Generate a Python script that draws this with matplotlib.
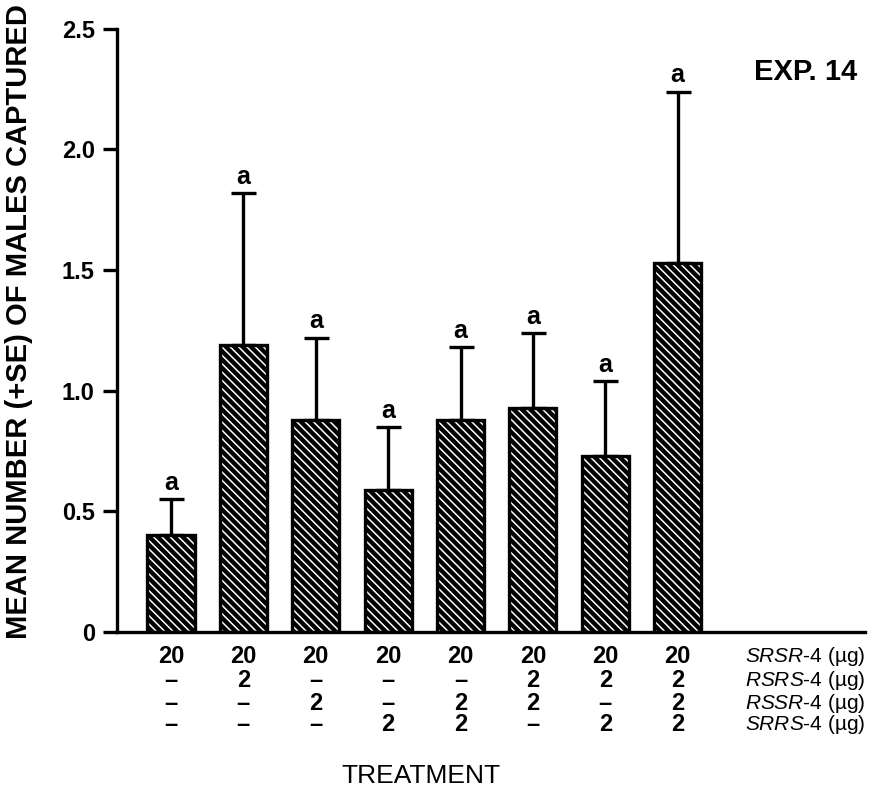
import matplotlib
matplotlib.use("Agg")
import matplotlib.pyplot as plt
import numpy as np

plt.rcParams['font.family'] = ['Liberation Sans', 'DejaVu Sans']
plt.rcParams['mathtext.fontset'] = 'custom'
plt.rcParams['mathtext.it'] = 'Liberation Sans:italic'
plt.rcParams['mathtext.rm'] = 'Liberation Sans'
plt.rcParams['hatch.linewidth'] = 1.1

# mean number of males captured and +SE
means = [0.40, 1.19, 0.88, 0.59, 0.88, 0.93, 0.73, 1.53]
se = [0.15, 0.63, 0.34, 0.26, 0.30, 0.31, 0.31, 0.71]
letters = ["a", "a", "a", "a", "a", "a", "a", "a"]

# treatment doses (µg), "–" = not included
srsr = ["20", "20", "20", "20", "20", "20", "20", "20"]
rsrs = ["–", "2", "–", "–", "–", "2", "2", "2"]
rssr = ["–", "–", "2", "–", "2", "2", "–", "2"]
srrs = ["–", "–", "–", "2", "2", "–", "2", "2"]
row_names = ["SRSR", "RSRS", "RSSR", "SRRS"]
yticks = [0, 0.5, 1.0, 1.5, 2.0, 2.5]
ytick_labels = ["0", "0.5", "1.0", "1.5", "2.0", "2.5"]

x = np.arange(1, len(means) + 1)

fig = plt.figure(figsize=(8.73, 7.99), dpi=100)
ax = fig.add_axes([0.134, 0.209, 0.857, 0.755])

# black bars with white diagonal hatch, then a black outline on top
ax.bar(x, means, width=0.65, color="black", edgecolor="white",
       hatch="\\\\\\\\", linewidth=0, zorder=2)
ax.bar(x, means, width=0.65, fill=False, edgecolor="black",
       linewidth=2.4, zorder=3)
ax.errorbar(x, means, yerr=[np.zeros(len(se)), se], fmt="none",
            ecolor="black", elinewidth=2.4, capsize=9, capthick=2.4, zorder=1)

for xi, m, s, l in zip(x, means, se, letters):
    ax.annotate(l, (xi, m + s), xytext=(0, 3), textcoords="offset points",
                ha="center", va="bottom", fontsize=18, fontweight="bold")

ax.set_xlim(0.254, 10.59)
ax.set_ylim(0, 2.5)
ax.set_xticks([])
ax.set_yticks(yticks)
ax.set_yticklabels(ytick_labels)
ax.tick_params(axis="y", direction="out", length=10, width=2.4, pad=6,
               labelsize=17)
for lab in ax.get_yticklabels():
    lab.set_fontweight("bold")
for side in ["top", "right"]:
    ax.spines[side].set_visible(False)
ax.spines["left"].set_linewidth(2.4)
ax.spines["bottom"].set_linewidth(2.4)

ax.set_ylabel("MEAN NUMBER (+SE) OF MALES CAPTURED", fontsize=21,
              fontweight="bold")
ax.yaxis.set_label_coords(-0.112, 0.514)

ax.text(0.99, 0.929, "EXP. 14", transform=ax.transAxes, ha="right",
        va="center", fontsize=21, fontweight="bold")

# treatment table under the axis
trans = ax.get_xaxis_transform()
rows = [srsr, rsrs, rssr, srrs]
row_y = [-0.041, -0.081, -0.118, -0.154]
for vals, name, yy in zip(rows, row_names, row_y):
    for xi, v in zip(x, vals):
        ax.text(xi, yy, v, transform=trans, ha="center", va="center",
                fontsize=17, fontweight="bold", clip_on=False)
    ax.text(10.59, yy, r"$\mathit{" + name + r"}$-4 (µg)", transform=trans,
            ha="right", va="center", fontsize=15, clip_on=False)

ax.text(4.45, -0.239, "TREATMENT", transform=trans, ha="center",
        va="center", fontsize=19, clip_on=False)

fig.savefig("out.png", dpi=100)
